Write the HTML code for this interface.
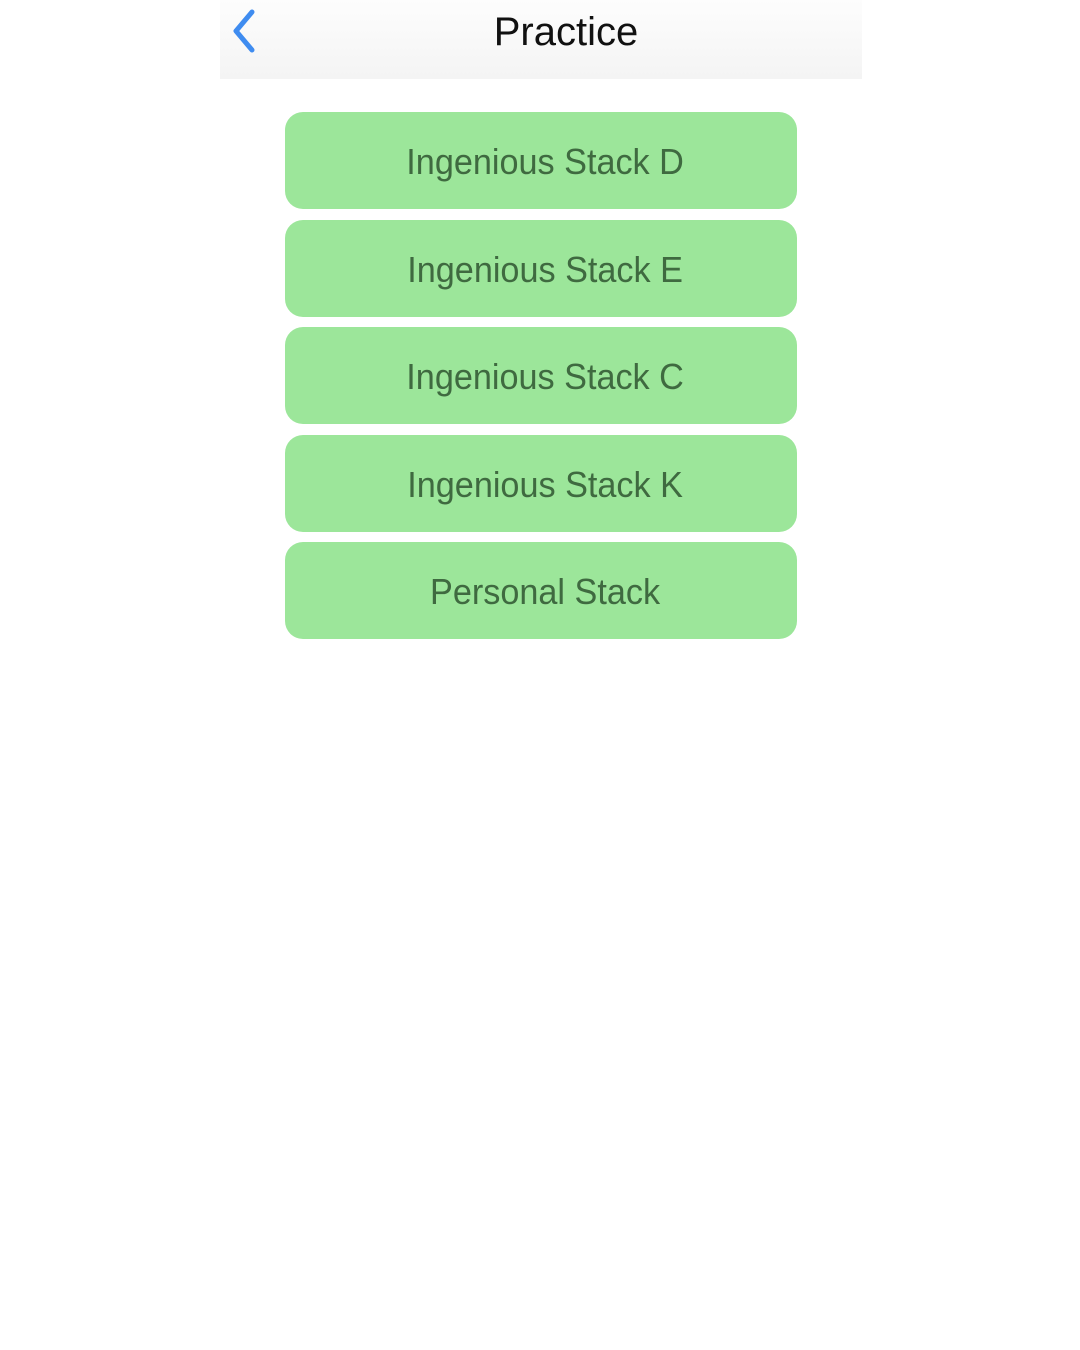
<!DOCTYPE html>
<html><head><style>
body{margin:0;width:1080px;height:1350px;background:#fff;font-family:"Liberation Sans",sans-serif;position:relative;overflow:hidden}
.hdr{position:absolute;left:220px;top:0;width:642px;height:79px;background:linear-gradient(#fdfdfd,#f4f4f4)}
.t{position:absolute;left:0;width:692px;top:10px;text-align:center;font-size:40px;color:#111}
.b{position:absolute;left:285px;width:512px;height:97px;background:#9ce69a;border-radius:18px;text-align:center;line-height:99px;font-size:36px;color:#3f6a40}
.b span{display:inline-block;transform:scaleX(0.95);margin-left:8px}
</style></head><body>
<div class="hdr"><svg style="position:absolute;left:10px;top:8px" width="30" height="46"><polyline points="22,4 6,23 22,42" fill="none" stroke="#3f8cf0" stroke-width="5" stroke-linecap="round" stroke-linejoin="round"/></svg><div class="t">Practice</div></div>
<div class="b" style="top:112px"><span>Ingenious Stack D</span></div>
<div class="b" style="top:220px"><span>Ingenious Stack E</span></div>
<div class="b" style="top:327px"><span>Ingenious Stack C</span></div>
<div class="b" style="top:435px"><span>Ingenious Stack K</span></div>
<div class="b" style="top:542px"><span>Personal Stack</span></div>
</body></html>
